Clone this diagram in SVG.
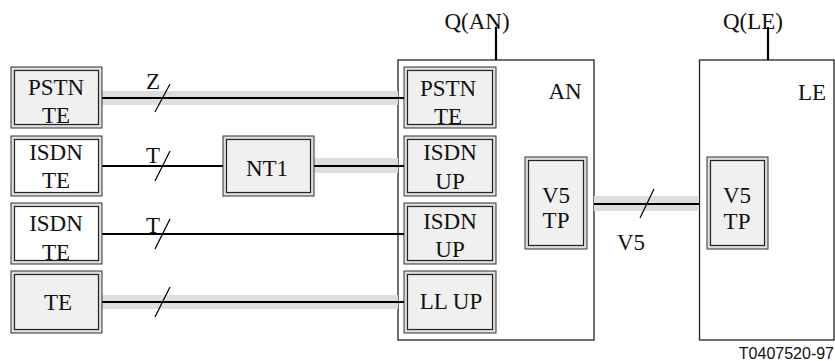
<svg xmlns="http://www.w3.org/2000/svg" width="835" height="361" viewBox="0 0 835 361">
<style>
.o{fill:#dedede;stroke:#333;stroke-width:1}
.i{fill:#f0f0f0;stroke:#222;stroke-width:1.2}
.iw{fill:#fff;stroke:#222;stroke-width:1.2}
.big{fill:#fff;stroke:#222;stroke-width:1.3}
.band{fill:#dedede;stroke:none}
.ln{stroke:#000;stroke-width:2.2;fill:none}
.sl{stroke:#000;stroke-width:1.2;fill:none}
.t{font-family:"Liberation Serif","Times New Roman",serif;font-size:23px;fill:#111;text-anchor:middle}
.cap{font-family:"Liberation Sans",Arial,sans-serif;font-size:16px;text-anchor:end;fill:#111}
</style>
<rect width="835" height="361" fill="#fff"/>
<g id="AN">
<rect class="big" x="398" y="60" width="196" height="280"/>
<text class="t" x="565" y="99">AN</text>
</g>
<g id="LE">
<rect class="big" x="699.5" y="60" width="134.5" height="280"/>
<text class="t" x="812" y="100">LE</text>
</g>

<g id="connectors">
<rect class="band" x="102" y="91" width="296" height="14"/>
<rect class="band" x="314" y="158" width="84" height="15"/>
<rect class="band" x="102" y="295" width="296" height="14"/>
<rect class="band" x="594" y="196" width="105" height="15"/>
<line class="ln" x1="102" y1="98" x2="404" y2="98"/>
<line class="ln" x1="102" y1="166" x2="223" y2="166"/>
<line class="ln" x1="314" y1="166" x2="404" y2="166"/>
<line class="ln" x1="102" y1="234" x2="404" y2="234"/>
<line class="ln" x1="102" y1="302" x2="404" y2="302"/>
<line class="ln" x1="594" y1="204" x2="699" y2="204"/>
<line class="ln" x1="496" y1="27" x2="496" y2="60"/>
<line class="ln" x1="768" y1="27" x2="768" y2="60"/>
<line class="sl" x1="155" y1="112" x2="170" y2="84"/>
<line class="sl" x1="155" y1="181" x2="170" y2="151"/>
<line class="sl" x1="155" y1="249" x2="170" y2="219"/>
<line class="sl" x1="155" y1="317" x2="170" y2="287"/>
<line class="sl" x1="640" y1="218" x2="654" y2="189"/>
<text class="t" x="153" y="89">Z</text>
<text class="t" x="153" y="163">T</text>
<text class="t" x="153" y="233">T</text>
<text class="t" x="631" y="250">V5</text>
<text class="t" x="477" y="29">Q(AN)</text>
<text class="t" x="753" y="29">Q(LE)</text>
</g>

<g id="pstn-te">
<rect class="o" x="11" y="67" width="91" height="61"/>
<rect class="i" x="14.5" y="70.5" width="84" height="54"/>
<text class="t" x="56" y="95">PSTN</text>
<text class="t" x="56" y="123">TE</text>
</g>
<g id="isdn-te-1">
<rect class="o" x="11" y="136" width="91" height="60"/>
<rect class="iw" x="14.5" y="139.5" width="84" height="53"/>
<text class="t" x="56" y="160">ISDN</text>
<text class="t" x="56" y="188">TE</text>
</g>
<g id="isdn-te-2">
<rect class="o" x="11" y="203" width="91" height="61"/>
<rect class="iw" x="14.5" y="206.5" width="84" height="54"/>
<text class="t" x="56" y="231">ISDN</text>
<text class="t" x="56" y="260">TE</text>
</g>
<g id="te">
<rect class="o" x="11" y="271" width="91" height="62"/>
<rect class="i" x="14.5" y="274.5" width="84" height="55"/>
<text class="t" x="58" y="310">TE</text>
</g>
<g id="nt1">
<rect class="o" x="223" y="136" width="91" height="60"/>
<rect class="i" x="226.5" y="139.5" width="84" height="53"/>
<text class="t" x="267" y="176">NT1</text>
</g>
<g id="an-pstn-te">
<rect class="o" x="404" y="67" width="92" height="61"/>
<rect class="i" x="407.5" y="70.5" width="85" height="54"/>
<text class="t" x="448" y="96">PSTN</text>
<text class="t" x="448" y="124">TE</text>
</g>
<g id="an-isdn-up-1">
<rect class="o" x="404" y="136" width="92" height="60"/>
<rect class="i" x="407.5" y="139.5" width="85" height="53"/>
<text class="t" x="450" y="160">ISDN</text>
<text class="t" x="450" y="189">UP</text>
</g>
<g id="an-isdn-up-2">
<rect class="o" x="404" y="203" width="92" height="61"/>
<rect class="i" x="407.5" y="206.5" width="85" height="54"/>
<text class="t" x="450" y="229">ISDN</text>
<text class="t" x="450" y="257">UP</text>
</g>
<g id="an-ll-up">
<rect class="o" x="404" y="271" width="92" height="62"/>
<rect class="i" x="407.5" y="274.5" width="85" height="55"/>
<text class="t" x="451" y="309">LL UP</text>
</g>
<g id="an-v5-tp">
<rect class="o" x="525" y="157" width="62" height="92"/>
<rect class="i" x="528.5" y="160.5" width="55" height="85"/>
<text class="t" x="556" y="203">V5</text>
<text class="t" x="556" y="228">TP</text>
</g>
<g id="le-v5-tp">
<rect class="o" x="707" y="157" width="61" height="92"/>
<rect class="i" x="710.5" y="160.5" width="54" height="85"/>
<text class="t" x="737" y="203">V5</text>
<text class="t" x="737" y="229">TP</text>
</g>
<text class="cap" x="834" y="359">T0407520-97</text>
</svg>
